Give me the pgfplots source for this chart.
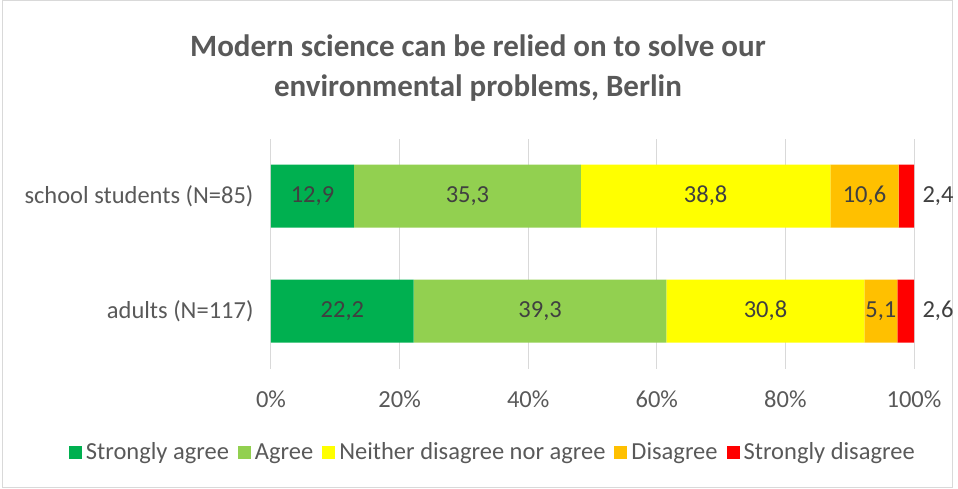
\documentclass[border=0pt]{standalone}
\usepackage{fontspec}
\setmainfont{Carlito}
\usepackage{pgfplots}
\pgfplotsset{compat=1.18}
\definecolor{sagree}{HTML}{00B050}
\definecolor{agree}{HTML}{92D050}
\definecolor{neither}{HTML}{FFFF00}
\definecolor{disagree}{HTML}{FFC000}
\definecolor{sdis}{HTML}{FF0000}
\definecolor{txt}{HTML}{595959}
\definecolor{lbl}{HTML}{404040}
\definecolor{grd}{HTML}{D9D9D9}
\begin{document}
\begin{tikzpicture}[x=1pt,y=1pt]
\useasboundingbox (0,0) rectangle (958,488);
\draw[grd, line width=1pt] (2,1) rectangle (952,487);
\node[font=\fontsize{31}{40}\selectfont\bfseries, text=txt, align=center] at (478,420)
  {Modern science can be relied on to solve our\\environmental problems, Berlin};
\begin{axis}[
  at={(271pt,119.5pt)}, anchor=south west,
  scale only axis, width=643pt, height=230pt,
  xbar stacked, bar width=63pt,
  xmin=0, xmax=100, ymin=-0.5, ymax=1.5,
  xtick={0,20,...,100},
  xticklabel={\pgfmathprintnumber{\tick}\%},
  ytick={0,1},
  yticklabels={adults (N=117), school students (N=85)},
  axis line style={draw=none},
  tick style={draw=none},
  xmajorgrids, grid style={grd, line width=1pt},
  tick label style={font=\fontsize{24.5}{28}\selectfont, text=txt},
  /pgf/number format/assume math mode=true,
  xticklabel style={yshift=-19pt},
  yticklabel style={xshift=-14pt},
  legend columns=5,
  legend style={at={(0.345,-0.363)}, anchor=center, draw=none, fill=none,
    font=\fontsize{24.5}{28}\selectfont, text=txt, inner xsep=0pt,
    /tikz/every odd column/.append style={column sep=2pt},
    /tikz/every even column/.append style={column sep=7pt}},
  legend image code/.code={\fill[#1] (0pt,-7pt) rectangle (13pt,6pt);},
]
\addplot[fill=sagree, draw=none] coordinates {(22.2,0) (12.9,1)};
\addplot[fill=agree, draw=none] coordinates {(39.3,0) (35.3,1)};
\addplot[fill=neither, draw=none] coordinates {(30.8,0) (38.8,1)};
\addplot[fill=disagree, draw=none] coordinates {(5.1,0) (10.6,1)};
\addplot[fill=sdis, draw=none] coordinates {(2.6,0) (2.4,1)};
\legend{Strongly agree, Agree, Neither disagree nor agree, Disagree, Strongly disagree}
\end{axis}
\begin{axis}[
  at={(271pt,119.5pt)}, anchor=south west,
  scale only axis, width=643pt, height=230pt,
  xmin=0, xmax=100, ymin=-0.5, ymax=1.5,
  hide axis, clip=false,
  nodes near coords, point meta=explicit symbolic,
  every node near coord/.append style={font=\fontsize{24.5}{28}\selectfont, text=lbl, anchor=center},
]
\addplot[draw=none, mark=none] table[meta=label] {
x y label
6.45 1 12,9
30.55 1 35,3
67.6 1 38,8
92.3 1 10,6
11.1 0 22,2
41.85 0 39,3
76.9 0 30,8
94.85 0 5,1
};
\addplot[draw=none, mark=none, nodes near coords style={anchor=west, xshift=5pt}] table[meta=label] {
x y label
100 1 2,4
100 0 2,6
};
\end{axis}
\end{tikzpicture}
\end{document}
